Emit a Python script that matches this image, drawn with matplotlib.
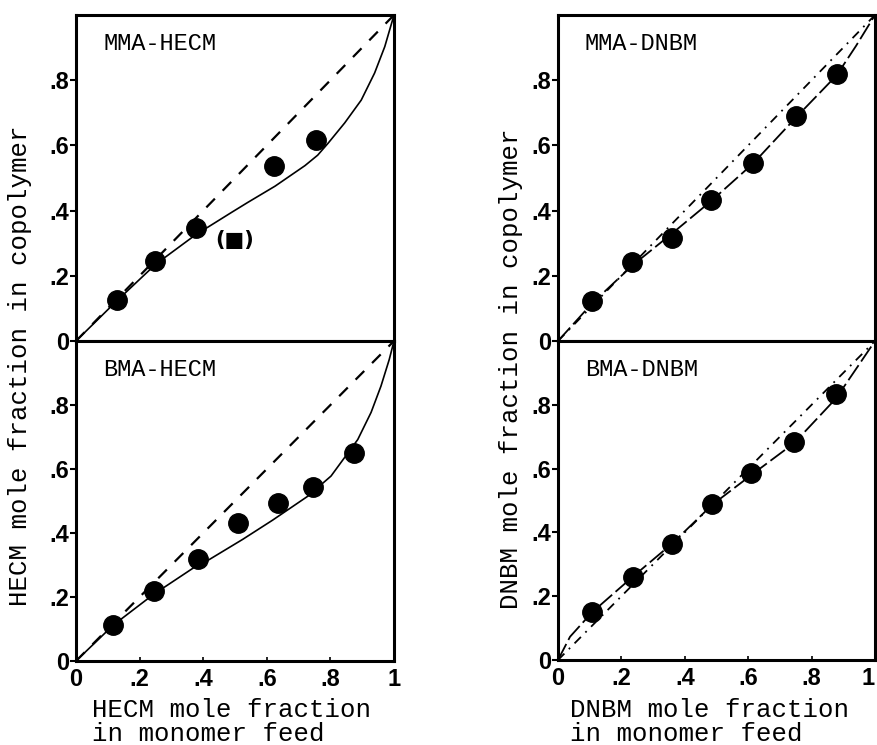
import matplotlib
matplotlib.use("Agg")
import matplotlib.pyplot as plt

# measured points (monomer feed, copolymer)
mma_hecm_feed = [0.128, 0.248, 0.376, 0.624, 0.755]
mma_hecm_copol = [0.126, 0.246, 0.348, 0.536, 0.618]
bma_hecm_feed = [0.117, 0.246, 0.383, 0.508, 0.635, 0.745, 0.875]
bma_hecm_copol = [0.114, 0.218, 0.32, 0.432, 0.495, 0.545, 0.65]
mma_dnbm_feed = [0.107, 0.235, 0.36, 0.484, 0.616, 0.751, 0.879]
mma_dnbm_copol = [0.123, 0.243, 0.317, 0.434, 0.545, 0.69, 0.819]
bma_dnbm_feed = [0.108, 0.237, 0.36, 0.487, 0.61, 0.745, 0.877]
bma_dnbm_copol = [0.151, 0.26, 0.365, 0.4875, 0.585, 0.684, 0.833]

# fitted curves
mma_hecm_fx = [0, 0.125, 0.25, 0.375, 0.49, 0.54, 0.626, 0.72, 0.76, 0.793, 0.845, 0.897, 0.939, 0.971, 1.0]
mma_hecm_fy = [0, 0.12, 0.235, 0.325, 0.395, 0.425, 0.475, 0.538, 0.57, 0.607, 0.669, 0.739, 0.822, 0.903, 1.0]
bma_hecm_fx = [0, 0.117, 0.246, 0.283, 0.383, 0.419, 0.524, 0.618, 0.729, 0.802, 0.886, 0.928, 0.959, 0.985, 1.0]
bma_hecm_fy = [0, 0.112, 0.21, 0.234, 0.3, 0.317, 0.38, 0.44, 0.515, 0.578, 0.692, 0.777, 0.859, 0.942, 1.0]
mma_dnbm_fx = [0, 0.107, 0.235, 0.36, 0.484, 0.616, 0.75, 0.879, 0.94, 1.0]
mma_dnbm_fy = [0, 0.115, 0.232, 0.33, 0.43, 0.545, 0.685, 0.815, 0.905, 1.0]
bma_dnbm_fx = [0, 0.038, 0.108, 0.237, 0.36, 0.487, 0.61, 0.745, 0.877, 0.94, 1.0]
bma_dnbm_fy = [0, 0.073, 0.15, 0.262, 0.365, 0.487, 0.58, 0.68, 0.82, 0.912, 1.0]

ideal = [0, 1]
yticks = [0, 0.2, 0.4, 0.6, 0.8]
ytick_labels = ["0", ".2", ".4", ".6", ".8"]
xticks = [0, 0.2, 0.4, 0.6, 0.8, 1.0]
xtick_labels = ["0", ".2", ".4", ".6", ".8", "1"]

mono = "Liberation Mono"
tickfont = {"family": "Liberation Sans", "weight": "bold", "size": 17}

fig = plt.figure(figsize=(8.78, 7.45), dpi=100)
W, H = 878.0, 745.0


def make_axes(x0, w, ytop, ybot):
    return fig.add_axes([x0 / W, 1 - ybot / H, w / W, (ybot - ytop) / H])


ax_mh = make_axes(76, 318, 15, 341)
ax_bh = make_axes(76, 318, 341, 661)
ax_md = make_axes(558, 317, 15, 341)
ax_bd = make_axes(558, 317, 341, 660)

panels = [
    (ax_mh, "MMA-HECM", mma_hecm_feed, mma_hecm_copol, mma_hecm_fx, mma_hecm_fy, "hecm", False),
    (ax_bh, "BMA-HECM", bma_hecm_feed, bma_hecm_copol, bma_hecm_fx, bma_hecm_fy, "hecm", True),
    (ax_md, "MMA-DNBM", mma_dnbm_feed, mma_dnbm_copol, mma_dnbm_fx, mma_dnbm_fy, "dnbm", False),
    (ax_bd, "BMA-DNBM", bma_dnbm_feed, bma_dnbm_copol, bma_dnbm_fx, bma_dnbm_fy, "dnbm", True),
]

for ax, name, fx, fy, cx, cy, kind, bottom in panels:
    ax.set_xlim(0, 1)
    ax.set_ylim(0, 1)
    if kind == "hecm":
        ax.plot(ideal, ideal, color="black", lw=1.6, dashes=(5.5, 5), clip_on=False)
        ax.plot(cx, cy, color="black", lw=1.2, solid_capstyle="round", clip_on=False)
    else:
        ax.plot(ideal, ideal, color="black", lw=1.3, dashes=(5, 3.5, 1, 3.5), clip_on=False)
        ax.plot(cx, cy, color="black", lw=1.3, dashes=(10, 2.5), clip_on=False)
    ax.plot(fx, fy, "o", color="black", ms=14, zorder=5)
    ax.text(0.085, 0.912, name, transform=ax.transAxes, fontsize=17,
            family=mono, va="center", ha="left")

    for sp in ax.spines.values():
        sp.set_linewidth(2.2)
    ax.set_yticks(yticks)
    ax.set_yticklabels(ytick_labels, fontdict=tickfont)
    ax.tick_params(axis="y", direction="out", length=4, width=1.5, pad=1)
    ax.set_xticks(xticks)
    if bottom:
        ax.set_xticklabels(xtick_labels, fontdict=tickfont)
        ax.tick_params(axis="x", direction="in", length=3, width=1.2, pad=5)
    else:
        ax.tick_params(axis="x", length=0, labelbottom=False)

# keep the last tick label of the right panel inside the picture
ax_bd.get_xticklabels()[-1].set_horizontalalignment("right")

ax_mh.text(0.5, 0.31, "(\u25a0)", transform=ax_mh.transAxes, fontsize=15,
           family="DejaVu Sans", weight="bold", va="center", ha="center")

fig.text(20 / W, 1 - 366 / H, "HECM mole fraction in copolymer", rotation=90,
         family=mono, fontsize=18.5, ha="center", va="center")
fig.text(511 / W, 1 - 369 / H, "DNBM mole fraction in copolymer", rotation=90,
         family=mono, fontsize=18.5, ha="center", va="center")
fig.text(92 / W, 1 - 722 / H, "HECM mole fraction\nin monomer feed",
         family=mono, fontsize=18.5, ha="left", va="center", linespacing=1.0)
fig.text(570 / W, 1 - 722 / H, "DNBM mole fraction\nin monomer feed",
         family=mono, fontsize=18.5, ha="left", va="center", linespacing=1.0)

fig.savefig("out.png", dpi=100)
